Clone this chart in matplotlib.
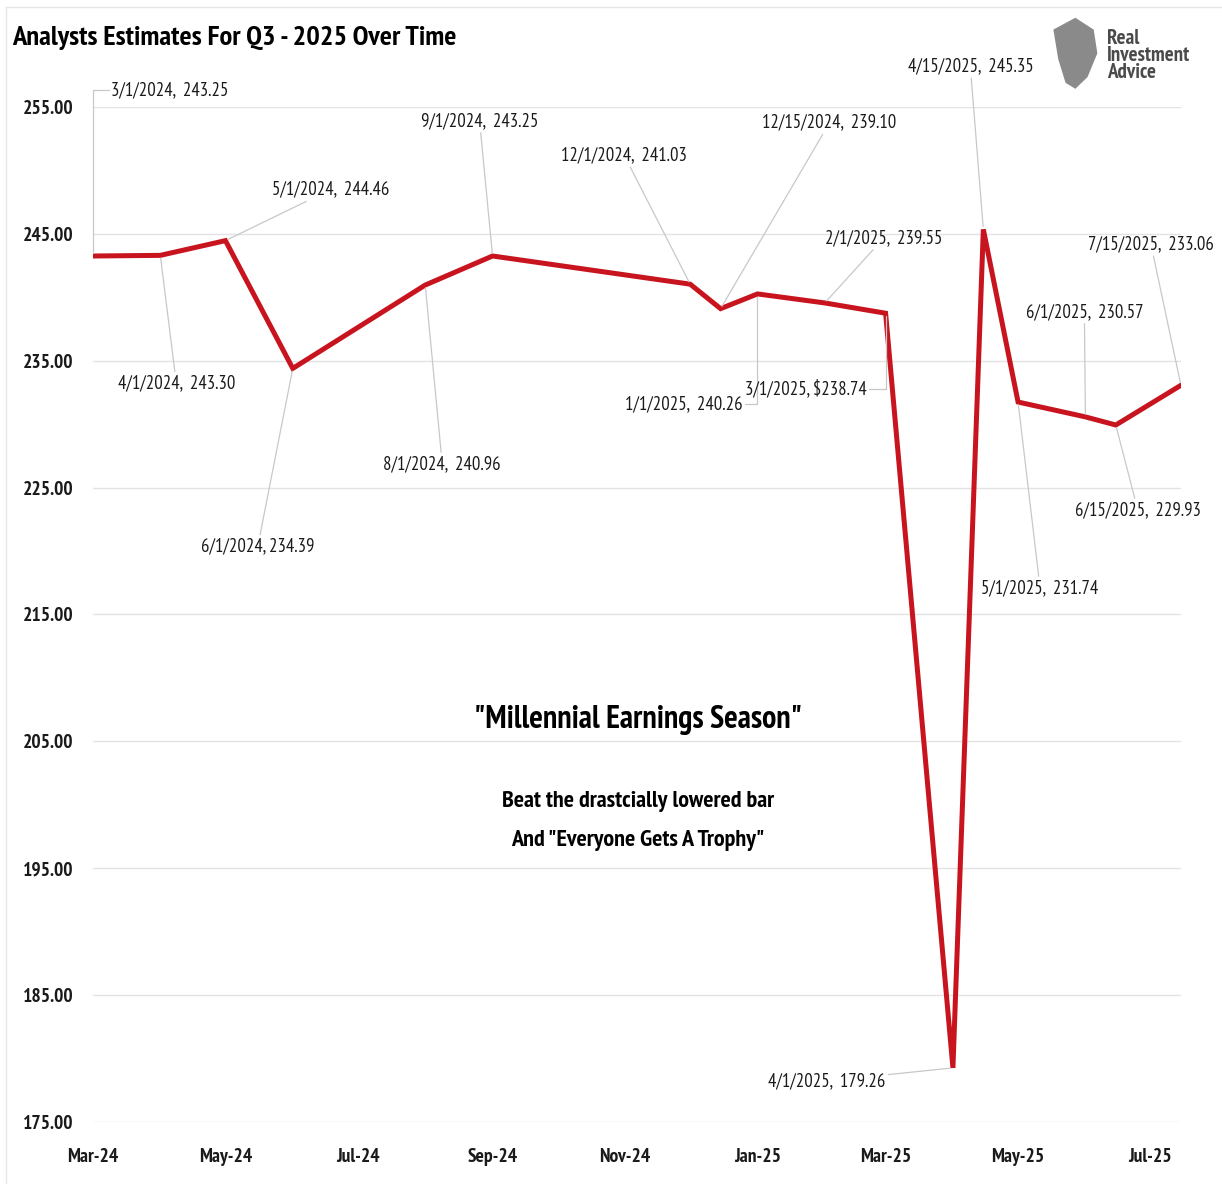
import numpy as np
import pandas as pd
import matplotlib
matplotlib.use("Agg")
import matplotlib.pyplot as plt
import matplotlib.dates as mdates
from matplotlib.patches import Polygon
from matplotlib.lines import Line2D

plt.rcParams['font.family'] = ['PT Sans Narrow', 'Liberation Sans Narrow', 'Carlito', 'DejaVu Sans']

# Q3-2025 EPS estimate snapshots
dates = ["2024-03-01", "2024-04-01", "2024-05-01", "2024-06-01", "2024-08-01",
         "2024-09-01", "2024-12-01", "2024-12-15", "2025-01-01", "2025-02-01",
         "2025-03-01", "2025-04-01", "2025-04-15", "2025-05-01", "2025-06-01",
         "2025-06-15", "2025-07-15"]
estimates = [243.25, 243.30, 244.46, 234.39, 240.96,
             243.25, 241.03, 239.10, 240.26, 239.55,
             238.74, 179.26, 245.35, 231.74, 230.57,
             229.93, 233.06]
point_labels = ["3/1/2024,  243.25", "4/1/2024,  243.30", "5/1/2024,  244.46",
                "6/1/2024, 234.39", "8/1/2024,  240.96", "9/1/2024,  243.25",
                "12/1/2024,  241.03", "12/15/2024,  239.10", "1/1/2025,  240.26",
                "2/1/2025,  239.55", "3/1/2025, $238.74", "4/1/2025,  179.26",
                "4/15/2025,  245.35", "5/1/2025,  231.74", "6/1/2025,  230.57",
                "6/15/2025,  229.93", "7/15/2025,  233.06"]
# label offsets from each point, in pixels
label_offsets = [(77, 166), (16, -128), (105, 51), (-35, -178), (17, -179),
                 (-13, 135), (-66, 129), (109, 186), (-74, -110), (59, 65),
                 (-80, -76), (-126, -13), (-13, 163), (22, -186), (-1, 105),
                 (22, -85), (-30, 141)]
elbow = 'angle,angleA=0,angleB=90,rad=0'
leader_styles = [elbow, 'arc3', 'arc3', 'arc3', 'arc3',
                 'arc3', 'arc3', 'arc3', elbow, 'arc3',
                 elbow, 'arc3', 'arc3', 'arc3', 'arc3',
                 'arc3', 'arc3']
y_ticks = [175, 185, 195, 205, 215, 225, 235, 245, 255]

x = pd.to_datetime(dates)

fig = plt.figure(figsize=(12.22, 11.84), dpi=100)
ax = fig.add_axes([0.0761, 0.0524, 0.8903, 0.8573])

ax.plot(x, estimates, color='#C8141E', lw=3.6, solid_joinstyle='miter', zorder=3)

for xi, yi, lab, off, cs in zip(x, estimates, point_labels, label_offsets, leader_styles):
    ax.annotate(lab, xy=(xi, yi), xytext=off, textcoords='offset pixels',
                ha='center', va='center', fontsize=13.4, color='#1a1a1a',
                arrowprops=dict(arrowstyle='-', color='#c8c8c8', lw=0.9,
                                shrinkA=0, shrinkB=2, connectionstyle=cs))

ax.set_xlim(x[0], x[-1])
ax.set_ylim(175, 255)
ax.set_yticks(y_ticks)
ax.set_yticklabels([f"{v:.2f}" for v in y_ticks])
ax.xaxis.set_major_locator(mdates.MonthLocator(bymonth=[1, 3, 5, 7, 9, 11]))
ax.xaxis.set_major_formatter(mdates.DateFormatter('%b-%y'))

ax.grid(axis='y', color='#e3e3e3', lw=1.0)
ax.set_axisbelow(True)
for s in ax.spines.values():
    s.set_visible(False)
ax.tick_params(axis='both', length=0, labelsize=14, colors='#1a1a1a')
ax.tick_params(axis='y', pad=14)
ax.tick_params(axis='x', pad=19)
for t in ax.get_xticklabels() + ax.get_yticklabels():
    t.set_fontweight('bold')

# faint chart-area frame on the top and left
fig.add_artist(Line2D([0.005, 1.0], [0.994, 0.994], color='#e6e6e6', lw=1.0))
fig.add_artist(Line2D([0.005, 0.005], [0.0, 0.994], color='#e6e6e6', lw=1.0))

fig.text(0.0098, 0.968, "Analysts Estimates For Q3 - 2025 Over Time",
         fontsize=20.5, fontweight='bold', va='center', ha='left')

fig.text(0.522, 0.392, '"Millennial Earnings Season"', fontsize=23,
         fontweight='bold', ha='center', va='center')
fig.text(0.522, 0.323, 'Beat the drastcially lowered bar', fontsize=17.4,
         fontweight='bold', ha='center', va='center')
fig.text(0.522, 0.290, 'And "Everyone Gets A Trophy"', fontsize=17.4,
         fontweight='bold', ha='center', va='center')

# logo
shield = Polygon([[0.862, 0.975], [0.880, 0.985], [0.895, 0.975], [0.898, 0.955],
                  [0.890, 0.935], [0.880, 0.925], [0.872, 0.930], [0.866, 0.950]],
                 closed=True, transform=fig.transFigure, facecolor='#8a8a8a',
                 edgecolor='none')
fig.patches.append(shield)
fig.text(0.906, 0.953, "Real\nInvestment\nAdvice", fontsize=15,
         fontweight='bold', color='#4a4a4a', va='center', ha='left',
         linespacing=0.85)

fig.savefig("out.png", dpi=100)
